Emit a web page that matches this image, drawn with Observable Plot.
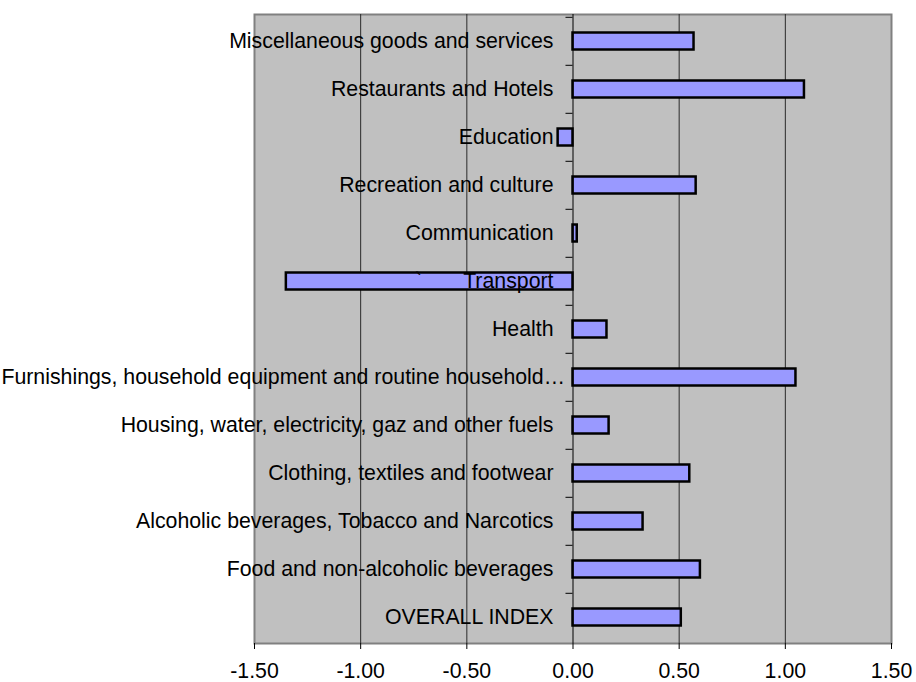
<!DOCTYPE html>
<html>
<head>
<meta charset="utf-8">
<script src="https://cdn.jsdelivr.net/npm/d3@7"></script>
<script src="https://cdn.jsdelivr.net/npm/@observablehq/plot@0.6"></script>
<style>
  html, body { margin: 0; padding: 0; background: #ffffff; }
  #chart svg { display: block; }
</style>
</head>
<body>
<div id="chart"></div>
<script>
const categories = [
  "Miscellaneous goods and services",
  "Restaurants and Hotels",
  "Education",
  "Recreation and culture",
  "Communication",
  "`\u00a0\u00a0\u00a0\u00a0\u00a0\u00a0\u00a0Transport",
  "Health",
  "Furnishings, household equipment and routine household\u2026",
  "Housing, water, electricity, gaz and other fuels",
  "Clothing, textiles and footwear",
  "Alcoholic beverages, Tobacco and Narcotics",
  "Food and non-alcoholic beverages",
  "OVERALL INDEX"
];
const values = [0.57, 1.09, -0.07, 0.58, 0.02, -1.35, 0.16, 1.05, 0.17, 0.55, 0.33, 0.60, 0.51];
const xTicks = [-1.5, -1, -0.5, 0, 0.5, 1, 1.5];
const gridTicks = [-1, -0.5, 0.5, 1];

const data = categories.map((c, i) => ({c, v: values[i]}));
const longLabel = categories[7];

const W = 916, H = 682, mT = 14, mB = 39;
const bw = (H - mT - mB) / categories.length;

const chart = Plot.plot({
  width: W,
  height: H,
  marginLeft: 254,
  marginRight: 25,
  marginTop: mT,
  marginBottom: mB,
  style: {fontFamily: "'Liberation Sans', Arial, sans-serif", background: "#ffffff", color: "#000"},
  x: {domain: [-1.5, 1.5], axis: null, label: null},
  y: {type: "band", domain: categories, padding: 0, axis: null, label: null},
  marks: [
    Plot.frame({fill: "#C0C0C0", stroke: "#808080", strokeWidth: 2}),
    Plot.ruleX(gridTicks, {stroke: "#2a2a2a", strokeWidth: 1}),
    Plot.barX(data, {x: "v", y: "c", fill: "#9999FF", stroke: "#000", strokeWidth: 2.5, insetTop: 15.5, insetBottom: 15.5}),
    Plot.ruleX([0], {stroke: "#000", strokeWidth: 1}),
    Plot.ruleY(categories, {y: d => d, dy: -bw / 2, x1: -0.033, x2: 0, stroke: "#000", strokeWidth: 1}),
    Plot.text(data.filter(d => d.c !== longLabel), {x: 0, y: "c", text: "c", textAnchor: "end", dx: -19.5, fontSize: 21.3, fill: "#000"}),
    Plot.text(data.filter(d => d.c === longLabel), {x: 0, y: "c", text: "c", textAnchor: "end", dx: -8, fontSize: 21.3, fill: "#000"}),
    Plot.axisX({ticks: xTicks, tickFormat: d => d.toFixed(2), tickSize: 6, tickPadding: 13, fontSize: 21.3, stroke: "#000", fill: "#000", label: null})
  ]
});
document.getElementById("chart").appendChild(chart);
</script>
</body>
</html>
